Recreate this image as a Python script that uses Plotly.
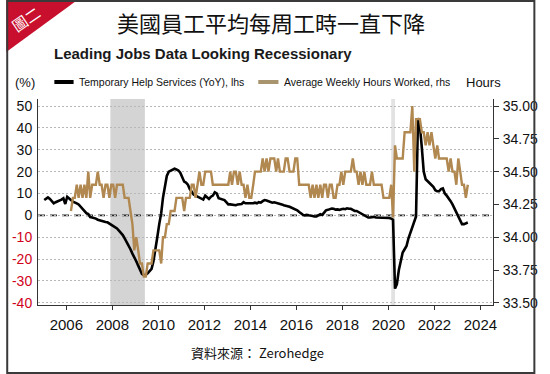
import pandas as pd
import plotly.graph_objects as go

# ---------------- data ----------------
# Temporary Help Services, YoY %, monthly Jan 2005 - Jun 2023 (left axis)
temp_help_yoy = [
    7.0, 7.8, 8.2, 7.5, 6.5, 5.5, 6.0, 6.3, 6.8, 7.2, 7.8, 5.2,          # 2005
    8.5, 7.5, 7.0, 6.3, 6.0, 5.5, 5.0, 4.0, 3.2, 2.0, 1.0, 0.6,          # 2006
    -0.8, -1.0, -1.2, -1.5, -2.0, -2.3, -2.7, -2.9, -3.0, -3.2, -3.8, -4.2,  # 2007
    -4.6, -5.2, -6.0, -7.0, -7.8, -9.0, -10.5, -12.0, -13.5, -15.5, -17.5, -19.0,  # 2008
    -21.0, -23.0, -25.0, -26.8, -27.3, -27.2, -26.5, -25.5, -24.5, -21.0, -16.0, -10.0,  # 2009
    -4.0, 1.0, 8.0, 13.0, 18.0, 20.0, 20.5, 21.0, 21.3, 21.0, 20.5, 19.5,  # 2010
    17.5, 15.4, 15.0, 14.0, 12.0, 10.5, 9.5, 9.0, 8.5, 8.0, 7.5, 7.2,     # 2011
    9.0, 8.0, 7.5, 8.5, 9.0, 10.5, 10.0, 7.8, 7.5, 7.2, 7.0, 6.0,         # 2012
    5.0, 5.0, 4.8, 4.6, 4.6, 5.0, 5.0, 5.2, 6.0, 5.5, 5.5, 5.5,           # 2013
    5.2, 5.5, 5.8, 5.5, 6.0, 5.8, 6.5, 7.0, 6.8, 6.5, 6.0, 5.8,           # 2014
    6.0, 5.8, 5.5, 5.2, 5.0, 4.6, 4.5, 4.2, 3.9, 3.5, 3.0, 2.5,           # 2015
    2.3, 1.5, 0.8, 0.2, 0.0, 0.2, 0.0, 0.0, -0.3, -0.5, -0.5, 0.0,        # 2016
    0.5, 0.2, 1.0, 2.3, 2.5, 3.0, 3.1, 3.0, 2.6, 2.7, 2.5, 2.8,           # 2017
    3.0, 2.8, 3.2, 3.0, 3.0, 2.5, 2.0, 2.0, 1.5, 1.1, 0.8, 0.0,           # 2018
    -0.5, -1.0, -1.0, -0.8, -0.7, -1.0, -1.0, -1.0, -1.0, -1.0, -1.2, -1.0,  # 2019
    -1.2, -1.5, -2.0, -33.5, -31.5, -25.0, -21.0, -17.0, -15.5, -14.0, -10.5, -8.0,  # 2020
    -5.5, -3.0, -0.5, 44.5, 41.0, 31.0, 20.0, 16.5, 15.5, 15.0, 14.0, 13.0,  # 2021
    11.5, 11.0, 11.0, 12.0, 12.3, 10.0, 9.0, 8.0, 6.5, 5.0, 3.0, 1.0,     # 2022
    -1.0, -2.5, -4.0, -4.0, -3.5, -3.3,                                  # 2023
]

# Average Weekly Hours Worked, monthly Mar 2006 - Jun 2023 (right axis)
avg_weekly_hours = [
    34.2, 34.3, 34.3, 34.4, 34.3, 34.4, 34.3, 34.4, 34.3, 34.5,                  # 2006
    34.3, 34.4, 34.4, 34.4, 34.5, 34.4, 34.4, 34.3, 34.4, 34.4, 34.3, 34.4,      # 2007
    34.4, 34.3, 34.4, 34.4, 34.4, 34.4, 34.3, 34.3, 34.3, 34.2, 34.1, 33.9,      # 2008
    34.0, 33.9, 33.8, 33.8, 33.7, 33.7, 33.8, 33.8, 33.8, 33.9, 33.9, 33.9,      # 2009
    33.9, 33.8, 34.0, 34.0, 34.1, 34.1, 34.2, 34.2, 34.2, 34.3, 34.3, 34.3,      # 2010
    34.3, 34.2, 34.3, 34.3, 34.3, 34.4, 34.4, 34.3, 34.4, 34.5, 34.4, 34.4,      # 2011
    34.5, 34.5, 34.5, 34.5, 34.4, 34.4, 34.4, 34.4, 34.4, 34.4, 34.4, 34.4,      # 2012
    34.4, 34.5, 34.4, 34.5, 34.5, 34.4, 34.5, 34.4, 34.4, 34.3, 34.4, 34.3,      # 2013
    34.3, 34.4, 34.5, 34.5, 34.5, 34.5, 34.6, 34.5, 34.6, 34.5, 34.6, 34.6,      # 2014
    34.6, 34.5, 34.6, 34.5, 34.5, 34.5, 34.6, 34.6, 34.5, 34.5, 34.5, 34.6,      # 2015
    34.6, 34.4, 34.4, 34.4, 34.4, 34.4, 34.4, 34.3, 34.4, 34.3, 34.4, 34.3,      # 2016
    34.4, 34.3, 34.4, 34.4, 34.3, 34.4, 34.4, 34.3, 34.3, 34.4, 34.4, 34.5,      # 2017
    34.4, 34.5, 34.5, 34.5, 34.5, 34.6, 34.5, 34.5, 34.4, 34.5, 34.4, 34.5,      # 2018
    34.4, 34.4, 34.4, 34.5, 34.4, 34.4, 34.4, 34.4, 34.4, 34.3, 34.3, 34.3,      # 2019
    34.3, 34.4, 34.15, 34.7, 34.6, 34.6, 34.6, 34.6, 34.8, 34.8, 34.8, 34.8,     # 2020
    35.0, 34.5, 34.9, 34.9, 34.9, 34.8, 34.8, 34.7, 34.8, 34.7, 34.8, 34.7,      # 2021
    34.6, 34.7, 34.6, 34.6, 34.6, 34.6, 34.6, 34.5, 34.6, 34.5, 34.5, 34.4,      # 2022
    34.6, 34.5, 34.4, 34.4, 34.3, 34.4,                                          # 2023
]

temp_dates = pd.date_range("2005-01-01", periods=len(temp_help_yoy), freq="MS") + pd.Timedelta(days=14)
hours_dates = pd.date_range("2006-03-01", periods=len(avg_weekly_hours), freq="MS") + pd.Timedelta(days=14)

recession_start = ["2007-12-01", "2020-02-15"]
recession_end = ["2009-06-01", "2020-04-15"]
recession_color = ["#D4D4D4", "#E2E2E2"]

left_ticks = [-40, -30, -20, -10, 0, 10, 20, 30, 40, 50]
right_ticks = [33.50, 33.75, 34.00, 34.25, 34.50, 34.75, 35.00]
year_ticks = [2006, 2008, 2010, 2012, 2014, 2016, 2018, 2020, 2022, 2024]

title_text = "美國員工平均每周工時一直下降"
subtitle_text = "Leading Jobs Data Looking Recessionary"
series_names = ["Temporary Help Services (YoY), lhs", "Average Weekly Hours Worked, rhs"]
source_text = "資料來源： Zerohedge"

# ---------------- styling ----------------
W, H = 550, 374
PL, PR, PT, PB = 33, 506, 99, 305
BLACK = "#000000"
GOLD = "#B08850"
RED = "#C8102E"
SANS = "Liberation Sans, Arial, sans-serif"
CJK = "Noto Sans CJK TC, Noto Sans CJK SC, sans-serif"

def px(x):
    return (x - PL) / (PR - PL)

def py(y):
    return (PB - y) / (PB - PT)

left_range = [-41.0, 53.2]
# right axis aligned so that 33.50 <-> -40 and 35.00 <-> 50
right_range = [33.5 + (v + 40) / 60.0 for v in left_range]

fig = go.Figure()
fig.add_trace(go.Scatter(x=hours_dates, y=avg_weekly_hours, yaxis="y2", mode="lines",
                         line=dict(color=GOLD, width=2.4), name=series_names[1], showlegend=False))
fig.add_trace(go.Scatter(x=temp_dates, y=temp_help_yoy, mode="lines",
                         line=dict(color=BLACK, width=2.6), name=series_names[0], showlegend=False))

shapes = []
for s, e, c in zip(recession_start, recession_end, recession_color):
    shapes.append(dict(type="rect", xref="x", yref="paper", x0=s, x1=e, y0=0, y1=1,
                       fillcolor=c, line=dict(width=0), layer="below"))
# zero dashed line
shapes.append(dict(type="line", xref="paper", yref="y", x0=0, x1=1, y0=0, y1=0,
                   line=dict(color="#2a2a2a", width=1.6, dash="7px,5px"), layer="between"))
# legend swatches
shapes.append(dict(type="line", xref="paper", yref="paper", x0=px(50), x1=px(70), y0=py(82), y1=py(82),
                   line=dict(color=BLACK, width=4)))
shapes.append(dict(type="line", xref="paper", yref="paper", x0=px(262), x1=px(283), y0=py(82), y1=py(82),
                   line=dict(color="#A8946E", width=4)))
# red corner badge
shapes.append(dict(type="path", xref="paper", yref="paper",
                   path=f"M {px(0)},{py(0)} L {px(74)},{py(0)} L {px(0)},{py(52)} Z",
                   fillcolor=RED, line=dict(width=0)))
# outer frame
shapes.append(dict(type="rect", xref="paper", yref="paper", x0=px(1), x1=px(549), y0=py(1), y1=py(373),
                   line=dict(color="#3a3a3a", width=2), fillcolor="rgba(0,0,0,0)"))

annotations = [
    dict(text=title_text, x=px(275), y=py(22), xref="paper", yref="paper", showarrow=False,
         font=dict(family=CJK, size=22, color="#111111"), xanchor="center", yanchor="middle"),
    dict(text="<b>" + subtitle_text + "</b>", x=px(48), y=py(53), xref="paper", yref="paper", showarrow=False,
         font=dict(family=SANS, size=15, color="#1a1a1a"), xanchor="left", yanchor="middle"),
    dict(text="(%)", x=px(7), y=py(82), xref="paper", yref="paper", showarrow=False,
         font=dict(family=SANS, size=13, color="#111111"), xanchor="left", yanchor="middle"),
    dict(text=series_names[0], x=px(74), y=py(82), xref="paper", yref="paper", showarrow=False,
         font=dict(family=SANS, size=10.5, color="#111111"), xanchor="left", yanchor="middle"),
    dict(text=series_names[1], x=px(287), y=py(82), xref="paper", yref="paper", showarrow=False,
         font=dict(family=SANS, size=10.5, color="#111111"), xanchor="left", yanchor="middle"),
    dict(text="Hours", x=px(516), y=py(82), xref="paper", yref="paper", showarrow=False,
         font=dict(family=SANS, size=13, color="#111111"), xanchor="right", yanchor="middle"),
    dict(text=source_text, x=px(261), y=py(352), xref="paper", yref="paper", showarrow=False,
         font=dict(family=CJK, size=13, color="#111111"), xanchor="center", yanchor="middle"),
    dict(text="圖二", x=px(21), y=py(19), xref="paper", yref="paper", showarrow=False, textangle=-34,
         font=dict(family=CJK, size=15, color="#FFFFFF"), xanchor="center", yanchor="middle"),
]

left_text = [f'<span style="color:#D0021B">{v}</span>' if v < 0 else str(v) for v in left_ticks]

fig.update_layout(
    width=W, height=H,
    margin=dict(l=PL, r=W - PR, t=PT, b=H - PB, pad=0),
    paper_bgcolor="white", plot_bgcolor="white",
    showlegend=False, hovermode=False,
    shapes=shapes, annotations=annotations,
    xaxis=dict(type="date", range=["2004-10-08", "2024-07-19"],
               tickvals=[f"{y}-01-01" for y in year_ticks], ticktext=[str(y) for y in year_ticks],
               ticks="outside", ticklen=4, tickcolor="#333333", showgrid=False,
               showline=True, linecolor="#333333", linewidth=1, zeroline=False,
               tickfont=dict(family=SANS, size=15, color="#111111"), ticklabelstandoff=2),
    yaxis=dict(range=left_range, tickvals=left_ticks, ticktext=left_text,
               ticks="", showline=True, linecolor="#333333", linewidth=1,
               showgrid=True, gridcolor="#B8B8B8", gridwidth=1, griddash="2px,2px", zeroline=False,
               tickfont=dict(family=SANS, size=14, color="#111111"), ticklabelstandoff=2),
    yaxis2=dict(range=right_range, overlaying="y", side="right", tickvals=right_ticks,
                ticktext=[f"{v:.2f}" for v in right_ticks],
                ticks="outside", ticklen=5, tickcolor="#333333", showline=True, linecolor="#333333",
                linewidth=1, showgrid=False, zeroline=False,
                tickfont=dict(family=SANS, size=14, color="#111111"), ticklabelstandoff=1),
)

fig.write_html("out.html", config={"displayModeBar": False, "staticPlot": True},
               post_script="document.body.style.margin='0';document.body.style.overflow='hidden';")
